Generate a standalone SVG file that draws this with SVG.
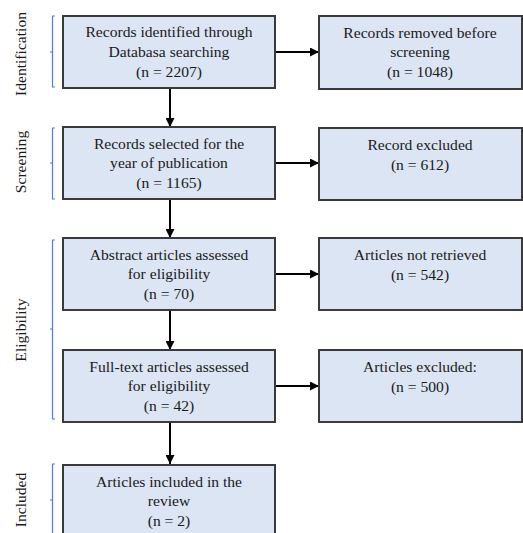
<svg xmlns="http://www.w3.org/2000/svg" width="523" height="533" viewBox="0 0 523 533">
<defs>
<style>
.box{fill:#dbe5f3;stroke:#3a3a3a;stroke-width:2}
.t{font-family:'Liberation Serif','Tinos','Times New Roman','DejaVu Serif',serif;font-size:15.6px;fill:#1a1a1a;text-anchor:middle}
.c{stroke:#000;stroke-width:2;fill:none}
.br{stroke:#4a7fd4;stroke-width:1.2;fill:none}
</style>
<marker id="ah" viewBox="0 0 10 10" refX="10" refY="5" markerWidth="4.5" markerHeight="4.5" orient="auto" markerUnits="strokeWidth">
<path d="M0,0 L10,5 L0,10 z" fill="#000"/>
</marker>
</defs>
<rect width="523" height="533" fill="#fff"/>
<g id="stages">
<path class="br" d="M55,16 H52.5 V87 H55 M52.5,52 H50"/>
<text class="t" transform="translate(26,54) rotate(-90)">Identification</text>
<path class="br" d="M55,128 H52.5 V199 H55 M52.5,163 H50"/>
<text class="t" transform="translate(26,162) rotate(-90)">Screening</text>
<path class="br" d="M55,240 H52.5 V419 H55 M52.5,329 H50"/>
<text class="t" transform="translate(26,330) rotate(-90)">Eligibility</text>
<path class="br" d="M55,464 H52.5 V540 M52.5,500 H50"/>
<text class="t" transform="translate(26,500) rotate(-90)">Included</text>
</g>
<g id="connectors">
<line class="c" x1="170" y1="88" x2="170" y2="127" marker-end="url(#ah)"/>
<line class="c" x1="170" y1="200" x2="170" y2="238" marker-end="url(#ah)"/>
<line class="c" x1="170" y1="310" x2="170" y2="350" marker-end="url(#ah)"/>
<line class="c" x1="170" y1="422" x2="170" y2="464" marker-end="url(#ah)"/>
<line class="c" x1="276" y1="52" x2="319" y2="52" marker-end="url(#ah)"/>
<line class="c" x1="276" y1="163" x2="319" y2="163" marker-end="url(#ah)"/>
<line class="c" x1="276" y1="274" x2="319" y2="274" marker-end="url(#ah)"/>
<line class="c" x1="276" y1="386" x2="319" y2="386" marker-end="url(#ah)"/>
</g>
<g id="n1">
<rect class="box" x="63" y="16" width="212" height="72"/>
<text class="t" x="169" y="37">Records identified through</text>
<text class="t" x="169" y="57">Databasa searching</text>
<text class="t" x="169" y="77">(n = 2207)</text>
</g>
<g id="n2">
<rect class="box" x="319" y="16" width="203" height="73"/>
<text class="t" x="420" y="38">Records removed before</text>
<text class="t" x="420" y="57">screening</text>
<text class="t" x="420" y="77">(n = 1048)</text>
</g>
<g id="n3">
<rect class="box" x="63" y="127" width="212" height="72"/>
<text class="t" x="169" y="149">Records selected for the</text>
<text class="t" x="169" y="168">year of publication</text>
<text class="t" x="169" y="188">(n = 1165)</text>
</g>
<g id="n4">
<rect class="box" x="319" y="128" width="203" height="72"/>
<text class="t" x="420" y="150">Record excluded</text>
<text class="t" x="420" y="170">(n = 612)</text>
</g>
<g id="n5">
<rect class="box" x="63" y="238" width="212" height="72"/>
<text class="t" x="169" y="260">Abstract articles assessed</text>
<text class="t" x="169" y="279">for eligibility</text>
<text class="t" x="169" y="299">(n = 70)</text>
</g>
<g id="n6">
<rect class="box" x="319" y="238" width="203" height="72"/>
<text class="t" x="420" y="260">Articles not retrieved</text>
<text class="t" x="420" y="280">(n = 542)</text>
</g>
<g id="n7">
<rect class="box" x="63" y="350" width="212" height="72"/>
<text class="t" x="169" y="372">Full-text articles assessed</text>
<text class="t" x="169" y="391">for eligibility</text>
<text class="t" x="169" y="411">(n = 42)</text>
</g>
<g id="n8">
<rect class="box" x="319" y="350" width="203" height="72"/>
<text class="t" x="420" y="372">Articles excluded:</text>
<text class="t" x="420" y="392">(n = 500)</text>
</g>
<g id="n9">
<rect class="box" x="63" y="465" width="212" height="80"/>
<text class="t" x="169" y="487">Articles included in the</text>
<text class="t" x="169" y="506">review</text>
<text class="t" x="169" y="526">(n = 2)</text>
</g>
</svg>
